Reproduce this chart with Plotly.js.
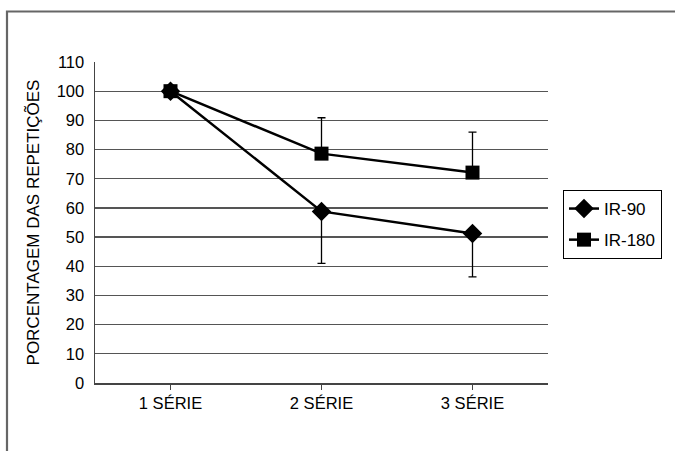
<!DOCTYPE html>
<html>
<head>
<meta charset="utf-8">
<script src="https://cdn.plot.ly/plotly-3.0.1.min.js"></script>
<style>html,body{margin:0;padding:0;background:#fff;}#chart{width:675px;height:451px;}</style>
</head>
<body>
<div id="chart"></div>
<script>
const categories = ["1 SÉRIE", "2 SÉRIE", "3 SÉRIE"];
const ir90 = [100, 58.8, 51.2];
const ir90ErrMinus = [0, 17.8, 14.8];
const ir180 = [100, 78.6, 72.1];
const ir180ErrPlus = [0, 12.3, 13.9];
const yTicks = [0, 10, 20, 30, 40, 50, 60, 70, 80, 90, 100, 110];

const traces = [
  {
    name: "IR-90", x: categories, y: ir90, type: "scatter", mode: "lines+markers",
    legendgroup: "a",
    line: {color: "#000", width: 2.5},
    marker: {symbol: "diamond", size: 15, color: "#000"},
    error_y: {type: "data", symmetric: false, array: [0,0,0], arrayminus: ir90ErrMinus,
              color: "#000", thickness: 1.3, width: 4}
  },
  {
    name: "IR-180", x: categories, y: ir180, type: "scatter", mode: "lines+markers",
    legendgroup: "b",
    line: {color: "#000", width: 2.5},
    marker: {symbol: "square", size: 14, color: "#000"},
    error_y: {type: "data", symmetric: false, array: ir180ErrPlus, arrayminus: [0,0,0],
              color: "#000", thickness: 1.3, width: 4}
  }
];

const layout = {
  width: 675, height: 451,
  margin: {l: 95, r: 127, t: 62, b: 68},
  paper_bgcolor: "#fff", plot_bgcolor: "#fff",
  font: {family: "Liberation Sans, Arial, sans-serif", color: "#000", size: 16},
  showlegend: true,
  legend: {x: (563 - 95) / 453, y: (383 - 190) / 321, xanchor: "left", yanchor: "top",
           bordercolor: "#000", borderwidth: 1, font: {size: 17},
           traceorder: "grouped", tracegroupgap: 6},
  xaxis: {
    type: "category", range: [-0.5, 2.5], showgrid: false,
    showline: true, linecolor: "#444", linewidth: 1.5,
    ticks: "outside", ticklen: 5, tickcolor: "#444", tickwidth: 1.5,
    tickfont: {size: 16.5}, zeroline: false, fixedrange: true
  },
  yaxis: {
    range: [0, 110], tickvals: yTicks, ticktext: yTicks.map(String),
    showgrid: true, gridcolor: "#555", gridwidth: 1.3,
    showline: true, linecolor: "#444", linewidth: 1.5,
    ticks: "", ticklabelstandoff: 6, tickfont: {size: 16.5}, zeroline: false,
    title: {text: "PORCENTAGEM DAS REPETIÇÕES", font: {size: 17}, standoff: 12}
  },
  shapes: [
    {type: "rect", xref: "paper", yref: "paper",
     x0: (7 - 95) / 453, x1: 1.6, y0: -0.6, y1: (383 - 11.5) / 321,
     line: {color: "#666", width: 2.2}, fillcolor: "rgba(0,0,0,0)", layer: "below"}
  ]
};

Plotly.newPlot("chart", traces, layout, {displayModeBar: false, staticPlot: true});
</script>
</body>
</html>
